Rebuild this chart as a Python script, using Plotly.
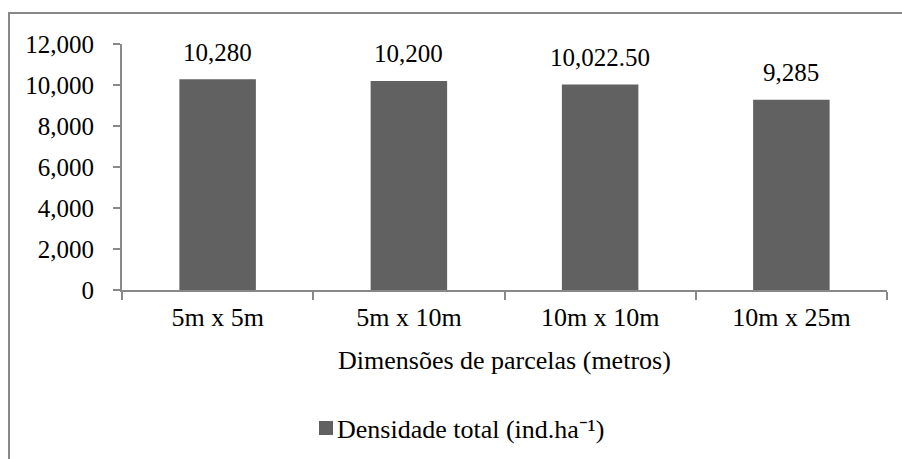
import plotly.graph_objects as go

categories = ["5m x 5m", "5m x 10m", "10m x 10m", "10m x 25m"]
values = [10280, 10200, 10022.5, 9285]
value_labels = ["10,280", "10,200", "10,022.50", "9,285"]
series_name = "Densidade total (ind.ha⁻¹)"
x_title = "Dimensões de parcelas (metros)"
y_ticks = [0, 2000, 4000, 6000, 8000, 10000, 12000]

FONT = "Liberation Serif"
FS_TICK = 25
FS_TEXT = 26
BAR = "#616161"
AXIS = "#888888"

W, H = 902, 459
L, T = 122, 44
R = W - 887
B = H - 290
pw, ph = W - L - R, H - T - B

def px_x(x):
    return (x - L) / pw

def px_y(y):
    return (H - B - y) / ph

fig = go.Figure()
fig.add_trace(go.Bar(
    x=categories, y=values, name=series_name,
    marker=dict(color=BAR, line=dict(width=0)),
    showlegend=False, hoverinfo="x+y",
))

for c, v, t in zip(categories, values, value_labels):
    fig.add_annotation(x=c, y=v, text=t, showarrow=False, xref="x", yref="y",
                       yanchor="middle", yshift=27,
                       font=dict(family=FONT, size=FS_TICK, color="#000000"))

fig.add_annotation(x=0.5, y=px_y(360), xref="paper", yref="paper", text=x_title,
                   showarrow=False, yanchor="middle",
                   font=dict(family=FONT, size=FS_TEXT, color="#000000"))

# legend (square key + series name)
fig.add_shape(type="rect", xref="paper", yref="paper",
              x0=px_x(319), x1=px_x(333), y0=px_y(435), y1=px_y(421),
              line=dict(width=0), fillcolor=BAR)
fig.add_annotation(x=px_x(335), y=px_y(429), xref="paper", yref="paper", text=series_name,
                   showarrow=False, xanchor="left", yanchor="middle",
                   font=dict(family=FONT, size=FS_TEXT, color="#000000"))

# outer chart border (top and left edges visible; rest is cropped)
fig.add_shape(type="line", xref="paper", yref="paper",
              x0=px_x(8), x1=px_x(910), y0=px_y(13), y1=px_y(13),
              line=dict(color=AXIS, width=2))
fig.add_shape(type="line", xref="paper", yref="paper",
              x0=px_x(9), x1=px_x(9), y0=px_y(12), y1=px_y(470),
              line=dict(color=AXIS, width=2))

fig.update_layout(
    width=W, height=H,
    margin=dict(l=L, r=R, t=T, b=B, autoexpand=False),
    paper_bgcolor="white", plot_bgcolor="white",
    font=dict(family=FONT, size=FS_TICK, color="#000000"),
    bargap=0.6,
    showlegend=False,
    xaxis=dict(showgrid=False, showline=True, linecolor=AXIS, linewidth=2, automargin=False,
               ticks="outside", tickson="boundaries", ticklen=8, tickcolor=AXIS, tickwidth=2,
               tickfont=dict(family=FONT, size=FS_TEXT), ticklabelstandoff=3),
    yaxis=dict(range=[0, 12000], tickvals=y_ticks, tickformat=",", showgrid=False,
               zeroline=False, showline=True, linecolor=AXIS, linewidth=2, automargin=False,
               ticks="outside", ticklen=7, tickcolor=AXIS, tickwidth=2,
               tickfont=dict(family=FONT, size=FS_TICK), ticklabelstandoff=14),
)

fig.write_html("out.html", config={"displayModeBar": False},
               post_script="document.body.style.margin='0';document.body.style.overflow='hidden';")
